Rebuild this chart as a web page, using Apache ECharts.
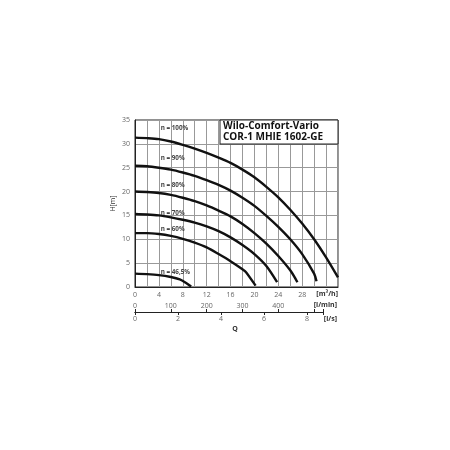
<!DOCTYPE html>
<html><head><meta charset="utf-8">
<script src="https://cdn.jsdelivr.net/npm/echarts@6/dist/echarts.min.js"></script>
<style>html,body{margin:0;padding:0;background:#fff}#c{width:450px;height:450px}</style>
</head><body><div id="c"></div>
<script>
// ---- data ----
const speedLabels = ['n = 100%', 'n = 90%', 'n = 80%', 'n = 70%', 'n = 60%', 'n = 46,5%'];
const curve100 = [[0,31.3],[2,31.2],[4,31.0],[6,30.5],[8,29.8],[10,29.0],[12,28.1],[14,27.1],[16,26.0],[18,24.6],[20,23.0],[22,21.0],[24,18.8],[26,16.2],[28,13.3],[30,10.0],[32,6.2],[34,2.0]];
const curve90  = [[0,25.4],[2,25.3],[4,25.0],[6,24.6],[8,24.0],[10,23.3],[12,22.4],[14,21.4],[16,20.2],[18,18.7],[20,17.0],[22,14.9],[24,12.6],[26,10.0],[28,6.9],[30,2.8],[30.4,1.2]];
const curve80  = [[0,20.0],[2,19.9],[4,19.7],[6,19.3],[8,18.7],[10,18.0],[12,17.1],[14,16.0],[16,14.8],[18,13.2],[20,11.3],[22,9.1],[24,6.5],[26,3.5],[27.2,1.0]];
const curve70  = [[0,15.3],[2,15.2],[4,15.0],[6,14.6],[8,14.1],[10,13.5],[12,12.7],[14,11.7],[16,10.4],[18,8.8],[20,6.9],[22,4.4],[23.8,1.0]];
const curve60  = [[0,11.3],[2,11.3],[4,11.1],[6,10.7],[8,10.1],[10,9.3],[12,8.3],[14,6.9],[16,5.4],[18,3.7],[18.6,3.1],[20.2,0.3]];
const curve46  = [[0,2.8],[2,2.7],[4,2.5],[6,2.1],[7.5,1.6],[8.5,0.9],[9.4,0.1]];
const curves = [curve100, curve90, curve80, curve70, curve60, curve46];
const titleLines = ['Wilo-Comfort-Vario', 'COR-1 MHIE 1602-GE'];
const unitM3h = '[m³/h]', unitLmin = '[l/min]', unitLs = '[l/s]', qName = 'Q', hName = 'H[m]';
// label anchor points in data units (Q m3/h, H m)
const labelAnchors = [[4.3,33.3],[4.3,27.0],[4.3,21.4],[4.3,15.5],[4.3,12.1],[4.3,3.1]];

// ---- chart ----
const FONT = 'Open Sans';
const chart = echarts.init(document.getElementById('c'), null, {renderer: 'canvas'});
const gridL = 135, gridT = 120, gridW = 203, gridH = 167;
const pxPerM3h = gridW / 34;
const lminMax = 525;
const secW = lminMax * 0.06 * pxPerM3h;

chart.setOption({
  animation: false,
  backgroundColor: '#fff',
  textStyle: {fontFamily: FONT},
  grid: [
    {left: gridL, top: gridT, width: gridW, height: gridH, show: true, borderColor: '#222', borderWidth: 1, backgroundColor: 'transparent'},
    {left: gridL, top: 312, width: secW, height: 0}
  ],
  xAxis: [
    {gridIndex: 0, type: 'value', min: 0, max: 34, interval: 2,
     axisLine: {show: true, lineStyle: {color: '#222', width: 1}}, axisTick: {show: false},
     axisLabel: {color: '#666', fontSize: 7, margin: 4, formatter: v => (v % 4 === 0 && v <= 28) ? String(v) : ''},
     splitLine: {show: true, lineStyle: {color: '#999', width: 1}}},
    {gridIndex: 1, type: 'value', position: 'top', min: 0, max: lminMax, interval: 100,
     axisLine: {show: true, onZero: false, lineStyle: {color: '#222', width: 1}},
     axisTick: {show: true, length: 3, lineStyle: {color: '#222'}},
     axisLabel: {color: '#666', fontSize: 7, margin: 3, formatter: v => (v % 100 === 0 && v <= 400) ? String(v) : ''},
     splitLine: {show: false}},
    {gridIndex: 1, type: 'value', position: 'bottom', min: 0, max: lminMax / 60, interval: 2,
     axisLine: {show: true, onZero: false, lineStyle: {color: '#222', width: 1}},
     axisTick: {show: true, length: 3, lineStyle: {color: '#222'}},
     axisLabel: {color: '#666', fontSize: 7, margin: 3, formatter: v => (Math.abs(v - Math.round(v)) < 1e-6 && v <= 8) ? String(Math.round(v)) : ''},
     splitLine: {show: false}}
  ],
  yAxis: [
    {gridIndex: 0, type: 'value', min: 0, max: 35, interval: 5,
     axisLine: {show: true, lineStyle: {color: '#222'}}, axisTick: {show: false},
     axisLabel: {color: '#666', fontSize: 7, margin: 5},
     splitLine: {show: true, lineStyle: {color: '#999', width: 1}},
     name: hName, nameLocation: 'middle', nameGap: 19, nameRotate: 90,
     nameTextStyle: {color: '#333', fontSize: 7}},
    {gridIndex: 1, type: 'value', show: false, min: 0, max: 1}
  ],
  series: curves.map(c => ({
    type: 'line', xAxisIndex: 0, yAxisIndex: 0, data: c, showSymbol: false, smooth: 0.3,
    lineStyle: {color: '#111', width: 2.4}, silent: true, z: 3
  }))
});

const labelGraphics = speedLabels.map((t, i) => {
  const p = chart.convertToPixel({xAxisIndex: 0, yAxisIndex: 0}, labelAnchors[i]);
  return {type: 'text', x: p[0], y: p[1], z: 10,
    style: {text: t, fill: '#444', font: 'bold 6.3px "' + FONT + '"', textAlign: 'left', textVerticalAlign: 'middle'}};
});

chart.setOption({
  graphic: [
    {type: 'rect', z: 20, shape: {x: 220, y: gridT, width: gridL + gridW - 220, height: 24},
     style: {fill: '#fff', stroke: '#222', lineWidth: 1}},
    {type: 'text', z: 21, x: 223, y: 126.5, style: {text: titleLines[0], fill: '#111', font: 'bold 10px "' + FONT + '"', textAlign: 'left', textVerticalAlign: 'middle'}},
    {type: 'text', z: 21, x: 223, y: 137.5, style: {text: titleLines[1], fill: '#111', font: 'bold 10px "' + FONT + '"', textAlign: 'left', textVerticalAlign: 'middle'}},
    {type: 'text', z: 21, x: 338, y: 294, style: {text: unitM3h, fill: '#333', font: 'bold 7px "' + FONT + '"', textAlign: 'right', textVerticalAlign: 'middle'}},
    {type: 'text', z: 21, x: 337, y: 305, style: {text: unitLmin, fill: '#333', font: 'bold 7px "' + FONT + '"', textAlign: 'right', textVerticalAlign: 'middle'}},
    {type: 'text', z: 21, x: 337, y: 319, style: {text: unitLs, fill: '#333', font: 'bold 7px "' + FONT + '"', textAlign: 'right', textVerticalAlign: 'middle'}},
    {type: 'text', z: 21, x: 235, y: 329, style: {text: qName, fill: '#333', font: 'bold 7px "' + FONT + '"', textAlign: 'center', textVerticalAlign: 'middle'}}
  ].concat(labelGraphics)
});
</script>
</body></html>
